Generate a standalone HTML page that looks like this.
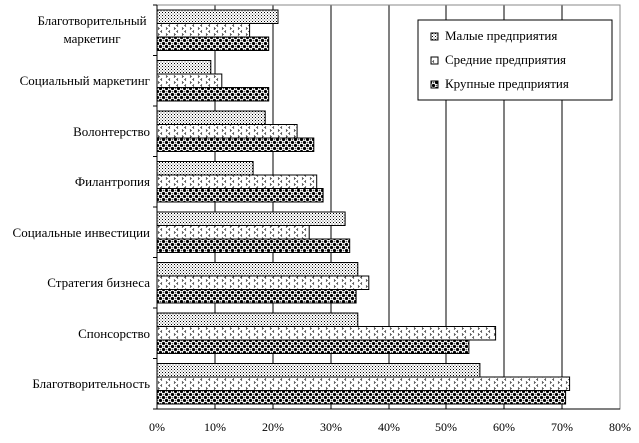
<!DOCTYPE html>
<html><head><meta charset="utf-8"><style>body{margin:0;background:#fff}svg{display:block;font-family:"Liberation Serif",serif}</style></head><body>
<svg width="639" height="443" xmlns="http://www.w3.org/2000/svg">
<defs>
<pattern id="p1" width="3" height="3" patternUnits="userSpaceOnUse"><rect width="3" height="3" fill="#fff"/><rect width="1" height="1" fill="#000"/><rect x="1.5" y="1.5" width="1" height="1" fill="#555"/></pattern>
<pattern id="p2" width="8" height="6" patternUnits="userSpaceOnUse"><rect width="8" height="6" fill="#fff"/><path d="M2 0.5 L0.8 1.5 L2 2.5 M6 3.5 L7.2 4.5 L6 5.5" stroke="#000" stroke-width="0.8" fill="none"/></pattern>
<pattern id="p3" width="6" height="6" patternUnits="userSpaceOnUse"><rect width="6" height="6" fill="#fff"/><circle cx="1.5" cy="1.5" r="1.6" fill="#000"/><circle cx="4.5" cy="4.5" r="1.6" fill="#000"/><circle cx="4.5" cy="1.5" r="0.8" fill="#555"/><circle cx="1.5" cy="4.5" r="0.8" fill="#555"/></pattern>
</defs>
<g stroke="#000" stroke-width="1">
<line x1="215" y1="5" x2="215" y2="409"/><line x1="273" y1="5" x2="273" y2="409"/><line x1="331" y1="5" x2="331" y2="409"/><line x1="389" y1="5" x2="389" y2="409"/><line x1="446" y1="5" x2="446" y2="409"/><line x1="504" y1="5" x2="504" y2="409"/><line x1="562" y1="5" x2="562" y2="409"/>
</g>
<rect x="157" y="5" width="463" height="404" fill="none" stroke="#888"/>
<g stroke="#000" stroke-width="1">
<rect x="157" y="10" width="121" height="13.5" fill="url(#p1)"/><rect x="157" y="23.5" width="92.6" height="13.5" fill="url(#p2)"/><rect x="157" y="37" width="111.7" height="13.5" fill="url(#p3)"/>
<rect x="157" y="60.5" width="53.8" height="13.5" fill="url(#p1)"/><rect x="157" y="74" width="64.8" height="13.5" fill="url(#p2)"/><rect x="157" y="87.5" width="111.7" height="13.5" fill="url(#p3)"/>
<rect x="157" y="111" width="108.2" height="13.5" fill="url(#p1)"/><rect x="157" y="124.5" width="140.1" height="13.5" fill="url(#p2)"/><rect x="157" y="138" width="156.8" height="13.5" fill="url(#p3)"/>
<rect x="157" y="161.5" width="96.1" height="13.5" fill="url(#p1)"/><rect x="157" y="175" width="159.7" height="13.5" fill="url(#p2)"/><rect x="157" y="188.5" width="166.1" height="13.5" fill="url(#p3)"/>
<rect x="157" y="212" width="188.1" height="13.5" fill="url(#p1)"/><rect x="157" y="225.5" width="152.2" height="13.5" fill="url(#p2)"/><rect x="157" y="239" width="192.7" height="13.5" fill="url(#p3)"/>
<rect x="157" y="262.5" width="200.8" height="13.5" fill="url(#p1)"/><rect x="157" y="276" width="211.8" height="13.5" fill="url(#p2)"/><rect x="157" y="289.5" width="199.1" height="13.5" fill="url(#p3)"/>
<rect x="157" y="313" width="200.8" height="13.5" fill="url(#p1)"/><rect x="157" y="326.5" width="338.6" height="13.5" fill="url(#p2)"/><rect x="157" y="340" width="311.9" height="13.5" fill="url(#p3)"/>
<rect x="157" y="363.5" width="322.9" height="13.5" fill="url(#p1)"/><rect x="157" y="377" width="412.6" height="13.5" fill="url(#p2)"/><rect x="157" y="390.5" width="408.6" height="13.5" fill="url(#p3)"/>
</g>
<g stroke="#000"><line x1="157" y1="5" x2="157" y2="409"/><line x1="157" y1="409" x2="620" y2="409"/>
<line x1="153" y1="5" x2="157" y2="5"/><line x1="153" y1="55.5" x2="157" y2="55.5"/><line x1="153" y1="106" x2="157" y2="106"/><line x1="153" y1="156.5" x2="157" y2="156.5"/><line x1="153" y1="207" x2="157" y2="207"/><line x1="153" y1="257.5" x2="157" y2="257.5"/><line x1="153" y1="308" x2="157" y2="308"/><line x1="153" y1="358.5" x2="157" y2="358.5"/><line x1="153" y1="409" x2="157" y2="409"/>
</g>
<g font-size="13" text-anchor="middle">
<text x="92" y="25">Благотворительный</text><text x="92" y="43">маркетинг</text>
</g>
<g font-size="13" text-anchor="end">
<text x="150" y="85">Социальный маркетинг</text>
<text x="150" y="136">Волонтерство</text>
<text x="150" y="186">Филантропия</text>
<text x="150" y="237">Социальные инвестиции</text>
<text x="150" y="287">Стратегия бизнеса</text>
<text x="150" y="338">Спонсорство</text>
<text x="150" y="388">Благотворительность</text>
</g>
<g font-size="12" text-anchor="middle">
<text x="157" y="431">0%</text><text x="215" y="431">10%</text><text x="273" y="431">20%</text><text x="331" y="431">30%</text><text x="389" y="431">40%</text><text x="446" y="431">50%</text><text x="504" y="431">60%</text><text x="562" y="431">70%</text><text x="620" y="431">80%</text>
</g>
<rect x="418" y="20" width="194" height="80" fill="#fff" stroke="#000"/>
<rect x="431" y="33" width="7" height="7" fill="url(#p1)" stroke="#000"/><text x="445" y="40" font-size="13">Малые предприятия</text>
<rect x="431" y="57" width="7" height="7" fill="url(#p2)" stroke="#000"/><text x="445" y="64" font-size="13">Средние предприятия</text>
<rect x="431" y="81" width="7" height="7" fill="url(#p3)" stroke="#000"/><text x="445" y="88" font-size="13">Крупные предприятия</text>
</svg>
</body></html>
